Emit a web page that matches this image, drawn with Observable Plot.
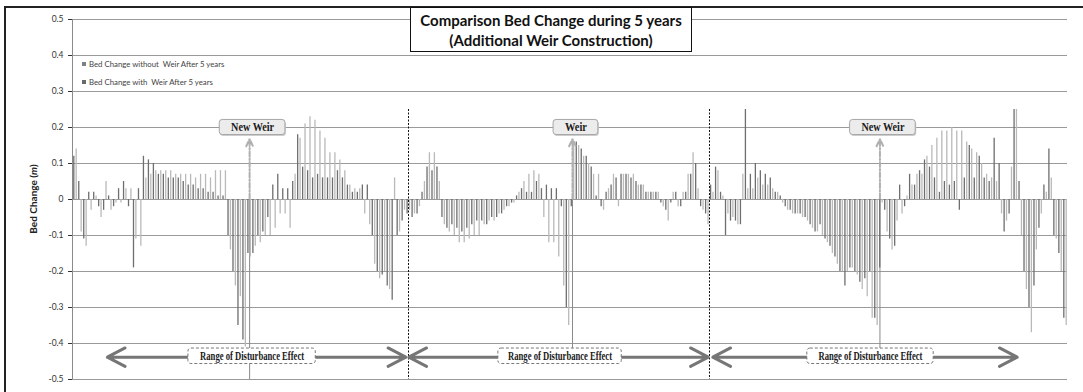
<!DOCTYPE html>
<html><head><meta charset="utf-8">
<script src="https://cdn.jsdelivr.net/npm/d3@7"></script>
<script src="https://cdn.jsdelivr.net/npm/@observablehq/plot@0.6"></script>
<style>
body{margin:0;background:#fff;}
#wrap{position:relative;width:1083px;height:392px;overflow:hidden;font-family:Lato,"Open Sans",sans-serif;background:#fff;}
#chart{position:absolute;left:0;top:0;}
#frame{position:absolute;left:4px;top:6px;width:1100px;height:400px;border-left:2px solid #222;border-top:2px solid #222;pointer-events:none;}
#title{position:absolute;left:410px;top:7px;width:282px;height:45px;box-sizing:border-box;border:1px solid #111;background:#fff;text-align:center;font-weight:bold;font-size:15px;line-height:20px;padding-top:2px;color:#111;}
.leg{position:absolute;left:82px;font-size:7.8px;color:#444;white-space:nowrap;line-height:10px;}
.leg span{display:inline-block;width:4px;height:4px;margin-right:3px;vertical-align:1px;}
</style></head>
<body>
<div id="wrap">
  <div id="chart"></div>
  <div id="frame"></div>
  <div id="title">Comparison Bed Change during 5 years<br>(Additional Weir Construction)</div>
  <div class="leg" style="top:59px"><span style="background:#808080"></span>Bed Change without&nbsp; Weir After 5 years</div>
  <div class="leg" style="top:77px"><span style="background:#6a6a6a"></span>Bed Change with&nbsp; Weir After 5 years</div>
</div>
<script>
// Series values (m), one per station, left to right
const withoutWeir = [0.12,0.05,-0.11,0.02,0.02,-0.02,-0.03,0.01,-0.02,0.03,
0.05,-0.02,-0.19,0.03,0.12,0.11,0.1,0.07,0.07,0.06,
0.06,0.06,0.05,0.04,0.04,0.03,0.03,0.02,0.02,0.01,
0.01,-0.1,-0.2,-0.35,-0.39,-0.15,-0.15,-0.1,-0.09,-0.05,
0.04,0.07,0.03,0.03,0.05,0.18,0.09,0.08,0.06,0.07,
0.06,0.06,0.06,0.08,0.06,0.04,0.02,0.02,0.04,0.04,
-0.1,-0.2,-0.21,-0.24,-0.28,-0.1,-0.06,-0.04,-0.05,-0.04,
0.02,0.09,0.08,0.09,-0.05,-0.08,-0.07,-0.08,-0.09,-0.08,
-0.07,-0.06,-0.06,-0.07,-0.05,-0.05,-0.04,-0.02,-0.01,0.01,
0.03,0.02,0.02,0.05,0.03,0.04,0.03,0.03,-0.02,-0.3,
-0.02,0.16,0.14,0.12,0.09,0.01,-0.02,0.02,0.04,0.06,
0.07,0.07,0.06,0.05,0.04,0.02,0.02,0.02,-0.01,-0.03,
-0.01,0.02,-0.02,0.02,0.07,0.1,-0.02,-0.04,0.04,0.09,
0.02,-0.1,-0.06,-0.06,-0.07,0.25,0.07,0.1,0.08,0.07,
0.06,0.02,0.01,-0.02,-0.03,-0.04,-0.04,-0.05,-0.07,-0.09,
-0.07,-0.11,-0.13,-0.16,-0.2,-0.24,-0.19,-0.2,-0.23,-0.22,
-0.2,-0.33,-0.19,-0.03,-0.11,-0.13,0.04,-0.02,0.07,0.04,
0.08,0.11,0.09,0.06,0.02,0.05,0.04,0.05,-0.03,0.06,
0.15,0.06,0.12,0.06,0.05,0.17,0.1,-0.09,-0.04,0.25,
0.05,-0.2,-0.3,-0.24,-0.08,0.04,0.14,-0.1,-0.15,-0.33];
const withWeir = [0.14,-0.09,-0.13,-0.03,0.01,-0.05,0.05,-0.03,-0.01,-0.01,
0.03,0.03,-0.11,-0.13,0.06,0.07,0.08,0.08,0.08,0.08,
0.07,0.07,0.07,0.07,0.06,0.07,0.07,0.06,0.08,0.08,
0.08,-0.14,-0.24,-0.27,-0.41,-0.16,-0.13,-0.12,-0.1,-0.1,
-0.08,-0.04,-0.04,-0.08,0.07,0.17,0.21,0.23,0.22,0.19,
0.17,0.13,0.13,0.11,0.08,0.04,0.03,0.03,-0.04,-0.07,
-0.18,-0.22,-0.2,-0.25,0.06,-0.09,-0.03,-0.03,-0.04,-0.02,
0.05,0.13,0.13,0.05,-0.07,-0.09,-0.1,-0.12,-0.12,-0.11,
-0.1,-0.1,-0.07,-0.06,-0.06,-0.04,-0.03,-0.02,-0.01,0.02,
0.05,0.07,0.08,0.07,-0.05,-0.12,-0.12,-0.16,-0.24,-0.35,
0.16,0.15,0.12,0.1,0.07,0.07,-0.03,0.03,0.07,-0.02,
0.07,0.07,0.07,0.04,0.04,0.02,0.02,0.02,-0.02,-0.06,
0.02,-0.02,0.02,0.07,0.13,0.03,-0.03,-0.07,0.02,0.08,
0.01,-0.04,-0.05,-0.07,0.07,0.03,0.03,0.06,0.04,0.04,
0.03,0.02,-0.01,-0.03,-0.04,-0.04,-0.05,-0.06,-0.08,-0.09,
-0.1,-0.12,-0.15,-0.18,-0.2,-0.2,-0.19,-0.21,-0.25,-0.27,
-0.33,-0.35,-0.01,-0.09,-0.14,-0.06,-0.04,0.01,0.04,0.07,
0.07,0.12,0.15,0.17,0.19,0.19,0.2,0.19,0.19,0.16,
0.14,0.13,0.1,0.07,0.06,0.05,-0.04,-0.06,0.09,0.25,
-0.1,-0.25,-0.37,-0.14,-0.04,0.02,0.06,-0.11,-0.2,-0.35];
const yTicks = [-0.5,-0.4,-0.3,-0.2,-0.1,0,0.1,0.2,0.3,0.4,0.5];

// Annotations (x in station units, y in metres)
const weirLabels = ["New Weir","Weir","New Weir"];
const weirX = [35.6,100.5,162.3];
const weirBoxX = [36.2,101.2,162.9];
const weirBoxHalf = [6.6,4.5,6.6];
const weirLineBottom = [-0.5,-0.414,-0.414];
const rangeStart = [7.0,67.6,128.7];
const rangeEnd = [67.0,127.8,189.9];
const rangeBoxX = [36.1,98.0,160.4];
const rangeBoxHalf = [12.8,12.4,12.7];
const rangeLabel = "Range of Disturbance Effect";
const dividers = [67.54,128.04];

const dark = withoutWeir.map((v,i)=>({i,v}));
const light = withWeir.map((v,i)=>({i,v}));
const weirs = weirLabels.map((label,k)=>({label,x:weirX[k],bx:weirBoxX[k],hw:weirBoxHalf[k],bottom:weirLineBottom[k]}));
const ranges = rangeStart.map((s,k)=>({s,e:rangeEnd[k],bx:rangeBoxX[k],hw:rangeBoxHalf[k]}));
const rangeArrows = ranges.flatMap(r=>[{x1:r.bx-r.hw,x2:r.s},{x1:r.bx+r.hw,x2:r.e}]);
const fmt = d => Math.abs(d) < 1e-9 ? "0" : (d < 0 ? "-" : "") + Math.abs(d).toFixed(1);
const serif = "Liberation Serif, DejaVu Serif, serif";

const chart = Plot.plot({
  width:1083, height:392,
  marginLeft:72, marginRight:16, marginTop:19, marginBottom:13,
  style:{fontFamily:"Lato, 'Open Sans', sans-serif", fontSize:"8.5px", color:"#333", background:"#fff"},
  x:{domain:[0,withoutWeir.length], axis:null},
  y:{domain:[-0.5,0.5], ticks:10, tickFormat:fmt, tickSize:4, tickPadding:5, label:null},
  marks:[
    Plot.ruleY(yTicks, {stroke:"#9a9a9a", strokeWidth:1}),
    Plot.ruleX([0], {stroke:"#8a8a8a"}),
    Plot.ruleX(weirs, {x:"x", y1:0, y2:"bottom", stroke:"#8a8a8a", strokeWidth:1}),
    Plot.ruleX(light, {x:d=>d.i+0.74, y1:0, y2:"v", stroke:"#b9b9b9", strokeWidth:1.3}),
    Plot.ruleX(dark, {x:d=>d.i+0.26, y1:0, y2:"v", stroke:"#6e6e6e", strokeWidth:1.3}),
    Plot.ruleX(dividers, {x:d=>d, y1:0.25, y2:-0.5, stroke:"#111", strokeWidth:1, strokeDasharray:"2,1.5"}),
    Plot.arrow(weirs, {x1:"x", x2:"x", y1:0.003, y2:0.168, stroke:"#b0b0b0", strokeWidth:2, strokeDasharray:"5,2,1.5,2", headLength:6, headAngle:50}),
    Plot.rect(weirs, {x1:d=>d.bx-d.hw+0.2, x2:d=>d.bx+d.hw+0.2, y1:0.175, y2:0.217, fill:"#cfcfcf", rx:3}),
    Plot.rect(weirs, {x1:d=>d.bx-d.hw, x2:d=>d.bx+d.hw, y1:0.179, y2:0.221, fill:"#ececec", stroke:"#a5a5a5", rx:3}),
    Plot.text(weirs, {x:"bx", y:0.2, text:"label", fontFamily:serif, fontWeight:"bold", fontSize:11.5, fill:"#1a1a1a"}),
    Plot.arrow(rangeArrows, {x1:"x1", x2:"x2", y1:-0.438, y2:-0.438, stroke:"#767676", strokeWidth:3, headLength:10, headAngle:55}),
    Plot.rect(ranges, {x1:d=>d.bx-d.hw, x2:d=>d.bx+d.hw, y1:-0.414, y2:-0.457, fill:"#fff", stroke:"#777", strokeDasharray:"3,2", rx:3}),
    Plot.text(ranges, {x:"bx", y:-0.4355, text:()=>rangeLabel, fontFamily:serif, fontWeight:"bold", fontSize:11.5, fill:"#1a1a1a"})
  ]
});
document.getElementById("chart").appendChild(chart);

const svg = d3.select(chart);
svg.selectAll("text").each(function(){
  const t = this.textContent;
  const s = d3.select(this);
  if (t === rangeLabel) s.attr("textLength",104).attr("lengthAdjust","spacingAndGlyphs").attr("font-family",serif);
  else if (t === "New Weir") s.attr("textLength",43).attr("lengthAdjust","spacingAndGlyphs").attr("font-family",serif);
  else if (t === "Weir") s.attr("textLength",22).attr("lengthAdjust","spacingAndGlyphs").attr("font-family",serif);
});
const yl = svg.append("text")
  .attr("transform","translate(37,199) rotate(-90)")
  .attr("text-anchor","middle")
  .attr("font-family","Lato, 'Open Sans', sans-serif")
  .attr("font-weight","bold").attr("font-size",10).attr("fill","#222");
yl.append("tspan").text("Bed Change (");
yl.append("tspan").attr("font-style","italic").text("m");
yl.append("tspan").text(")");
</script>
</body></html>
